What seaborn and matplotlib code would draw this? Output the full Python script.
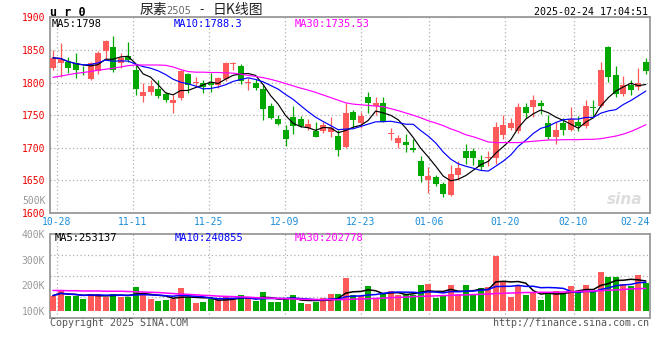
import numpy as np
import pandas as pd
import seaborn as sns
import matplotlib
matplotlib.use("Agg")
import matplotlib.pyplot as plt

# ---------------------------------------------------------
# DATA (ur0 daily K-line)
# ---------------------------------------------------------
open_px = [1823, 1830, 1831, 1830, 1820, 1805, 1818, 1849, 1855, 1830,
           1841, 1819, 1780, 1786, 1790, 1782, 1768, 1776, 1813, 1800,
           1799, 1799, 1796, 1805, 1828, 1825, 1799, 1800, 1790, 1764,
           1744, 1727, 1747, 1744, 1730, 1726, 1726, 1725, 1718, 1701,
           1755, 1738, 1778, 1764, 1769, 1721, 1708, 1709, 1700, 1680,
           1650, 1655, 1644, 1628, 1658, 1695, 1695, 1682, 1684, 1685,
           1720, 1730, 1726, 1762, 1762, 1769, 1738, 1717, 1738, 1728,
           1740, 1733, 1763, 1764, 1855, 1812, 1783, 1796, 1794, 1831]
close_px = [1838, 1836, 1823, 1820, 1819, 1830, 1846, 1864, 1820, 1837,
            1835, 1790, 1785, 1795, 1779, 1773, 1774, 1818, 1796, 1801,
            1793, 1796, 1807, 1830, 1830, 1802, 1801, 1792, 1760, 1745,
            1737, 1713, 1733, 1734, 1737, 1717, 1735, 1730, 1697, 1754,
            1742, 1749, 1768, 1769, 1740, 1723, 1715, 1705, 1696, 1657,
            1657, 1644, 1629, 1660, 1669, 1685, 1685, 1671, 1686, 1732,
            1735, 1738, 1762, 1753, 1773, 1764, 1717, 1728, 1728, 1744,
            1733, 1764, 1761, 1819, 1808, 1783, 1796, 1789, 1800, 1818]
high_px = [1850, 1860, 1840, 1845, 1826, 1832, 1848, 1866, 1872, 1846,
           1862, 1827, 1799, 1804, 1804, 1786, 1781, 1819, 1815, 1809,
           1804, 1815, 1809, 1832, 1832, 1828, 1807, 1806, 1796, 1768,
           1750, 1735, 1764, 1749, 1744, 1740, 1740, 1748, 1727, 1768,
           1758, 1755, 1786, 1778, 1778, 1730, 1720, 1721, 1713, 1687,
           1670, 1658, 1648, 1674, 1679, 1706, 1699, 1689, 1695, 1740,
           1750, 1746, 1768, 1768, 1781, 1774, 1750, 1740, 1745, 1762,
           1749, 1774, 1773, 1832, 1856, 1825, 1810, 1804, 1822, 1838]
low_px = [1819, 1809, 1815, 1807, 1812, 1804, 1813, 1835, 1817, 1822,
          1832, 1781, 1771, 1781, 1776, 1771, 1754, 1773, 1784, 1794,
          1784, 1785, 1791, 1802, 1819, 1798, 1789, 1789, 1742, 1744,
          1735, 1703, 1721, 1732, 1727, 1716, 1723, 1717, 1687, 1699,
          1732, 1730, 1754, 1750, 1739, 1712, 1699, 1694, 1694, 1648,
          1630, 1641, 1625, 1626, 1651, 1675, 1674, 1666, 1672, 1675,
          1714, 1728, 1723, 1745, 1748, 1752, 1714, 1706, 1720, 1726,
          1726, 1730, 1748, 1763, 1801, 1778, 1779, 1781, 1789, 1813]
volume_k = [160, 178, 160, 160, 147, 166, 166, 156, 166, 156,
            156, 194, 171, 147, 139, 144, 147, 190, 153, 132,
            136, 147, 143, 158, 143, 162, 149, 139, 174, 136,
            136, 149, 162, 131, 127, 136, 151, 166, 166, 229,
            162, 158, 197, 149, 171, 178, 162, 162, 162, 201,
            205, 152, 162, 201, 166, 201, 166, 190, 194, 316,
            212, 155, 197, 162, 171, 144, 175, 178, 171, 197,
            171, 201, 178, 252, 232, 232, 205, 197, 240, 210]
# MA30 lines as drawn (they depend on history before the window)
ma30_price = [1808, 1810, 1812, 1814, 1815.5, 1817, 1819, 1820.5, 1822, 1824,
              1826, 1827, 1827, 1827, 1827, 1826.5, 1824, 1820, 1817, 1816,
              1816, 1815.5, 1815.5, 1815, 1814.5, 1813, 1811, 1809.5, 1807.5, 1805,
              1802, 1798.5, 1795, 1791.5, 1788.5, 1785, 1781, 1777, 1773, 1769,
              1767, 1766, 1765, 1764, 1763, 1760, 1757, 1753.5, 1750, 1746,
              1741.5, 1738, 1734, 1729, 1725, 1720, 1717, 1713, 1709, 1708,
              1708, 1708, 1708, 1709, 1710, 1711, 1712, 1712, 1712.5, 1712.5,
              1712.5, 1713, 1713, 1714, 1716, 1718, 1721, 1725, 1730, 1735.5]
ma30_vol_k = [180, 180, 179, 179, 178, 178, 178, 177, 177, 177,
              176, 175, 174, 173, 172, 170, 168, 166, 165, 163,
              161, 160, 158, 157, 156, 155, 154, 152, 151, 150,
              149, 148, 147, 146, 145, 145, 144, 144, 144, 145,
              146, 147, 148, 149, 150, 152, 153, 154, 156, 157,
              158, 159, 160, 161, 162, 163, 164, 165, 166, 168,
              169, 170, 171, 172, 172, 173, 173, 173, 174, 175,
              176, 177, 178, 179, 181, 182, 184, 186, 187, 188]

date_labels = ['10-28', '11-11', '11-25', '12-09', '12-23', '01-06', '01-20', '02-10', '02-24']
date_index = [1, 11, 21, 31, 41, 50, 60, 69, 79]
price_ticks = [1600, 1650, 1700, 1750, 1800, 1850, 1900]
vol_ticks_k = [100, 200, 300, 400]

df = pd.DataFrame({'open': open_px, 'close': close_px, 'high': high_px,
                   'low': low_px, 'vol': np.array(volume_k) * 1000})
df['idx'] = np.arange(len(df))
df['ma5'] = df['close'].rolling(5, min_periods=1).mean()
df['ma10'] = df['close'].rolling(10, min_periods=1).mean()
df['ma30'] = ma30_price
df['vma5'] = df['vol'].rolling(5, min_periods=1).mean()
df['vma10'] = df['vol'].rolling(10, min_periods=1).mean()
df['vma30'] = np.array(ma30_vol_k) * 1000
df['up'] = df['close'] >= df['open']

RED = '#ff5a5a'
GREEN = '#00a800'
df['color'] = np.where(df['up'], RED, GREEN)

sns.set_style("white")
plt.rcParams['font.family'] = ['DejaVu Sans Mono', 'Noto Sans CJK SC']

W, H = 660, 360
fig = plt.figure(figsize=(6.6, 3.6), dpi=100)


def fx(x):
    return x / W


def fy(y):
    return 1 - y / H


ax = fig.add_axes([fx(50), fy(213), 600 / W, (213 - 17.4) / H])
vax = fig.add_axes([fx(50), fy(318), 600 / W, 84 / H])

grid_kw = dict(color='#b0b0b0', linestyle=(0, (1, 2)), linewidth=0.9)
tick_pos = [i - 0.5 + i * 0.0125 for i in date_index]

# ---------------- price panel ----------------
ax.vlines(df['idx'], df['low'], df['high'], colors=df['color'], linewidth=0.9, zorder=3)
body = (df['close'] - df['open']).abs().clip(lower=1.0)
ax.bar(df['idx'], body, bottom=df[['open', 'close']].min(axis=1), width=0.8,
       color=df['color'], linewidth=0, zorder=4)
sns.lineplot(x=df['idx'], y=df['ma5'], ax=ax, color='black', linewidth=0.85, zorder=5)
sns.lineplot(x=df['idx'], y=df['ma10'], ax=ax, color='#0000ff', linewidth=0.85, zorder=5)
sns.lineplot(x=df['idx'], y=df['ma30'], ax=ax, color='#ff00ff', linewidth=0.85, zorder=5)

ax.set_xlim(-0.4, 79.55)
ax.set_ylim(1600, 1900)
ax.set_yticks(price_ticks)
ax.set_yticklabels([str(t) for t in price_ticks], color='#ee0000', fontsize=7)
ax.set_xticks(tick_pos)
ax.set_xticklabels(date_labels, color='#1a8cd8', fontsize=7)
ax.get_xticklabels()[-1].set_horizontalalignment('right')
ax.tick_params(axis='both', length=0)
ax.tick_params(axis='y', pad=3.6)
ax.tick_params(axis='x', pad=2.6)
ax.grid(True, **grid_kw)
ax.set_axisbelow(True)
ax.set_xlabel('')
ax.set_ylabel('')

# ---------------- volume panel ----------------
base = 100000
vax.bar(df['idx'], df['vol'] - base, bottom=base, width=0.8, color=df['color'],
        linewidth=0, zorder=3)
sns.lineplot(x=df['idx'], y=df['vma5'], ax=vax, color='black', linewidth=1.1, zorder=5)
sns.lineplot(x=df['idx'], y=df['vma10'], ax=vax, color='#0000ff', linewidth=1.1, zorder=5)
sns.lineplot(x=df['idx'], y=df['vma30'], ax=vax, color='#ff00ff', linewidth=1.1, zorder=5)

vlo, vhi = 72730, 400000
vax.set_xlim(-0.4, 79.55)
vax.set_ylim(vlo, vhi)
vax.set_yticks([v * 1000 for v in vol_ticks_k])
vax.set_yticklabels([f'{v}K' for v in vol_ticks_k], color='#999999', fontsize=7)
vax.set_xticks(tick_pos)
vax.set_xticklabels([])
vax.tick_params(axis='both', length=0)
vax.tick_params(axis='y', pad=3.6)
vax.grid(True, axis='x', **grid_kw)
for q in (0.25, 0.5, 0.75):
    vax.axhline(vlo + q * (vhi - vlo), zorder=0, **grid_kw)
vax.set_axisbelow(True)
vax.set_xlabel('')
vax.set_ylabel('')

for a in (ax, vax):
    for s in a.spines.values():
        s.set_color('#999999')
        s.set_linewidth(1.3)

# ---------------- texts ----------------
mono = 'DejaVu Sans Mono'
fig.text(fx(50), fy(12.5), 'u r 0', fontsize=8.5, fontweight='bold', family=mono,
         va='center', ha='left', color='black')
fig.text(fx(140), fy(10), '尿素', fontsize=10, family=['Noto Sans CJK SC'],
         va='center', ha='left', color='#222222')
fig.text(fx(166), fy(10.5), '2505', fontsize=7, family='DejaVu Sans',
         va='center', ha='left', color='#666666')
fig.text(fx(202), fy(10), '-', fontsize=9, family=['Noto Sans CJK SC'],
         va='center', ha='center', color='#222222')
fig.text(fx(213), fy(10), '日K线图', fontsize=10, family=['Noto Sans CJK SC'],
         va='center', ha='left', color='#222222')
fig.text(fx(648), fy(12), '2025-02-24 17:04:51', fontsize=7.2, family=mono,
         va='center', ha='right', color='black')

fig.text(fx(52), fy(24), 'MA5:1798', fontsize=7.5, family=mono, va='center', color='black')
fig.text(fx(174), fy(24), 'MA10:1788.3', fontsize=7.5, family=mono, va='center', color='#0000ff')
fig.text(fx(295), fy(24), 'MA30:1735.53', fontsize=7.5, family=mono, va='center', color='#ff00ff')

fig.text(fx(55), fy(238), 'MA5:253137', fontsize=7.5, family=mono, va='center', color='black')
fig.text(fx(175), fy(238), 'MA10:240855', fontsize=7.5, family=mono, va='center', color='#0000ff')
fig.text(fx(295), fy(238), 'MA30:202778', fontsize=7.5, family=mono, va='center', color='#ff00ff')

fig.text(fx(46), fy(200.7), '500K', fontsize=7, family=mono, va='center', ha='right', color='#999999')
fig.text(fx(625), fy(199), 'sina', fontsize=11, family='DejaVu Sans', fontstyle='italic',
         fontweight='bold', va='center', ha='center', color='#dddddd')

fig.text(fx(50), fy(323), 'Copyright 2025 SINA.COM', fontsize=7.2, family=mono,
         va='center', ha='left', color='#555555')
fig.text(fx(649), fy(323), 'http://finance.sina.com.cn', fontsize=7.2, family=mono,
         va='center', ha='right', color='#555555')

fig.savefig('out.png', dpi=100)
